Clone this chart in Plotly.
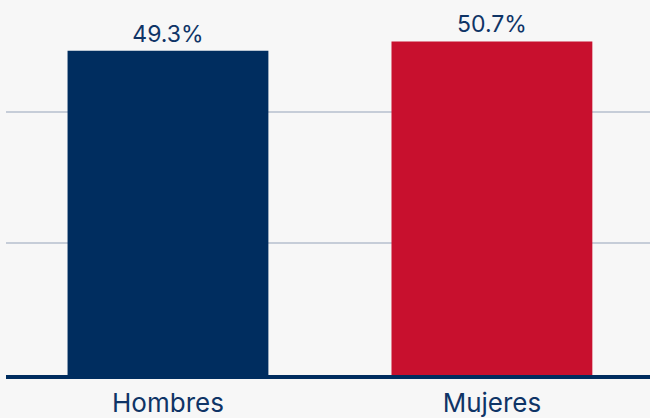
import plotly.graph_objects as go

categorias = ["Hombres", "Mujeres"]
porcentajes = [49.3, 50.7]
etiquetas = ["49.3%", "50.7%"]
colores = ["#002d5f", "#c8102e"]

NAVY = "#002d5f"
BG = "#f7f7f7"

fig = go.Figure()
fig.add_trace(go.Bar(
    x=categorias,
    y=porcentajes,
    width=0.62,
    marker=dict(color=colores, line_width=0),
    text=etiquetas,
    textposition="outside",
    textfont=dict(family="Inter", size=23, color="#0f3466"),
    cliponaxis=False,
    showlegend=False,
))

fig.update_layout(
    width=650, height=418,
    paper_bgcolor=BG, plot_bgcolor=BG,
    margin=dict(l=6, r=0, t=0, b=43),
    bargap=0.38,
    uniformtext=dict(mode=False),
)
fig.update_xaxes(
    range=[-0.5, 1.488],
    showline=True, linecolor=NAVY, linewidth=4,
    showgrid=False,
    ticks="", ticklen=0,
    ticklabelstandoff=2,
    tickfont=dict(family="Inter", size=26, color="#0f3466"),
)
fig.update_yaxes(
    range=[0, 57.0],
    tickvals=[20, 40],
    showticklabels=False,
    showgrid=True, gridcolor="#c6cdd8", gridwidth=2,
    zeroline=False,
)

fig.write_html("out.html", config={"displayModeBar": False},
               post_script="document.body.style.margin='0';")
